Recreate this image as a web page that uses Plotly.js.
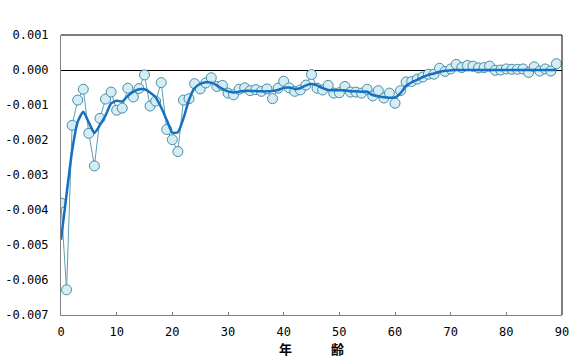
<!DOCTYPE html>
<html>
<head>
<meta charset="utf-8">
<script src="https://cdn.plot.ly/plotly-3.0.1.min.js"></script>
<style>html,body{margin:0;padding:0;background:#fff;}#chart{width:578px;height:362px;}</style>
</head>
<body>
<div id="chart"></div>
<script>
const ages = [];
for (let a = 0; a <= 89; a++) ages.push(a);

const observed = [
  -0.00380, -0.00628, -0.00158, -0.00086, -0.00055, -0.00181, -0.00274, -0.00138, -0.00083, -0.00063,
  -0.00115, -0.00109, -0.00052, -0.00077, -0.00053, -0.00014, -0.00103, -0.00089, -0.00036, -0.00170,
  -0.00199, -0.00233, -0.00086, -0.00082, -0.00039, -0.00054, -0.00037, -0.00022, -0.00047, -0.00044,
  -0.00066, -0.00071, -0.00055, -0.00051, -0.00059, -0.00056, -0.00061, -0.00054, -0.00082, -0.00052,
  -0.00032, -0.00051, -0.00061, -0.00057, -0.00043, -0.00013, -0.00052, -0.00057, -0.00044, -0.00066,
  -0.00065, -0.00047, -0.00063, -0.00063, -0.00066, -0.00055, -0.00074, -0.00059, -0.00080, -0.00066,
  -0.00095, -0.00059, -0.00034, -0.00033, -0.00026, -0.00020, -0.00012, -0.00012, 0.00005, -0.00004,
  0.00003, 0.00016, 0.00007, 0.00013, 0.00011, 0.00006, 0.00007, 0.00011, -0.00001, 0.00000,
  0.00003, 0.00002, 0.00002, 0.00003, -0.00007, 0.00009, -0.00003, 0.00003, -0.00003, 0.00018
];

const smoothed = [
  -0.00485, -0.00355, -0.00230, -0.00148, -0.00119, -0.00150, -0.00180, -0.00157, -0.00130, -0.00095,
  -0.00088, -0.00090, -0.00074, -0.00062, -0.00055, -0.00055, -0.00064, -0.00078, -0.00107, -0.00143,
  -0.00179, -0.00178, -0.00138, -0.00085, -0.00052, -0.00040, -0.00035, -0.00036, -0.00044, -0.00054,
  -0.00061, -0.00064, -0.00062, -0.00059, -0.00060, -0.00060, -0.00061, -0.00061, -0.00060, -0.00057,
  -0.00051, -0.00050, -0.00054, -0.00052, -0.00044, -0.00040, -0.00044, -0.00052, -0.00057, -0.00058,
  -0.00058, -0.00058, -0.00061, -0.00061, -0.00062, -0.00062, -0.00072, -0.00075, -0.00078, -0.00079,
  -0.00078, -0.00066, -0.00045, -0.00035, -0.00028, -0.00020, -0.00014, -0.00010, -0.00005, -0.00002,
  -0.00001, 0.00000, 0.00000, 0.00000, 0.00000, 0.00000, 0.00000, 0.00000, 0.00000, 0.00000,
  0.00000, 0.00000, 0.00000, 0.00000, 0.00000, 0.00000, 0.00000, 0.00000, 0.00000, 0.00000
];

const yTickVals = [0.001, 0.000, -0.001, -0.002, -0.003, -0.004, -0.005, -0.006, -0.007];
const yTickText = ["0.001", "0.000", "-0.001", "-0.002", "-0.003", "-0.004", "-0.005", "-0.006", "-0.007"];
const xTickVals = [0, 10, 20, 30, 40, 50, 60, 70, 80, 90];
const xTitle = "年　　　齢";

const tickFont = {family: "DejaVu Sans Mono, monospace", size: 12, color: "#000"};

const traces = [
  {
    x: ages, y: observed, type: "scatter", mode: "lines+markers",
    line: {color: "#5d9eb4", width: 1},
    marker: {size: 10, color: "#d4edf5", line: {color: "#4a8ca4", width: 1}},
    hoverinfo: "skip"
  },
  {
    x: ages, y: smoothed, type: "scatter", mode: "lines",
    line: {color: "#1370c2", width: 2.5, shape: "spline", smoothing: 0.5},
    hoverinfo: "skip"
  }
];

const layout = {
  width: 578, height: 362,
  margin: {l: 61, r: 16, t: 35, b: 47},
  paper_bgcolor: "#fff", plot_bgcolor: "#fff",
  showlegend: false,
  xaxis: {
    range: [0, 90], tickvals: xTickVals, ticks: "inside", ticklen: 3, tickcolor: "#808080",
    showline: true, linecolor: "#808080", linewidth: 1, showgrid: false, zeroline: false,
    tickfont: tickFont, ticklabelstandoff: 6, fixedrange: true,
    title: {text: xTitle, font: {family: "Noto Sans CJK JP", size: 13, color: "#000", weight: "bold"}, standoff: 0}
  },
  yaxis: {
    range: [-0.007, 0.001], tickvals: yTickVals, ticktext: yTickText, ticks: "",
    showline: true, linecolor: "#808080", linewidth: 1, showgrid: false,
    zeroline: true, zerolinecolor: "#000", zerolinewidth: 1,
    tickfont: tickFont, ticklabelstandoff: 9, fixedrange: true
  },
  shapes: [
    {type: "line", xref: "paper", yref: "paper", x0: 0, x1: 1, y0: 1, y1: 1, line: {color: "#000", width: 1}},
    {type: "line", xref: "paper", yref: "paper", x0: 1, x1: 1, y0: 0, y1: 1, line: {color: "#000", width: 1}}
  ]
};

Plotly.newPlot("chart", traces, layout, {staticPlot: true, displayModeBar: false});
</script>
</body>
</html>
